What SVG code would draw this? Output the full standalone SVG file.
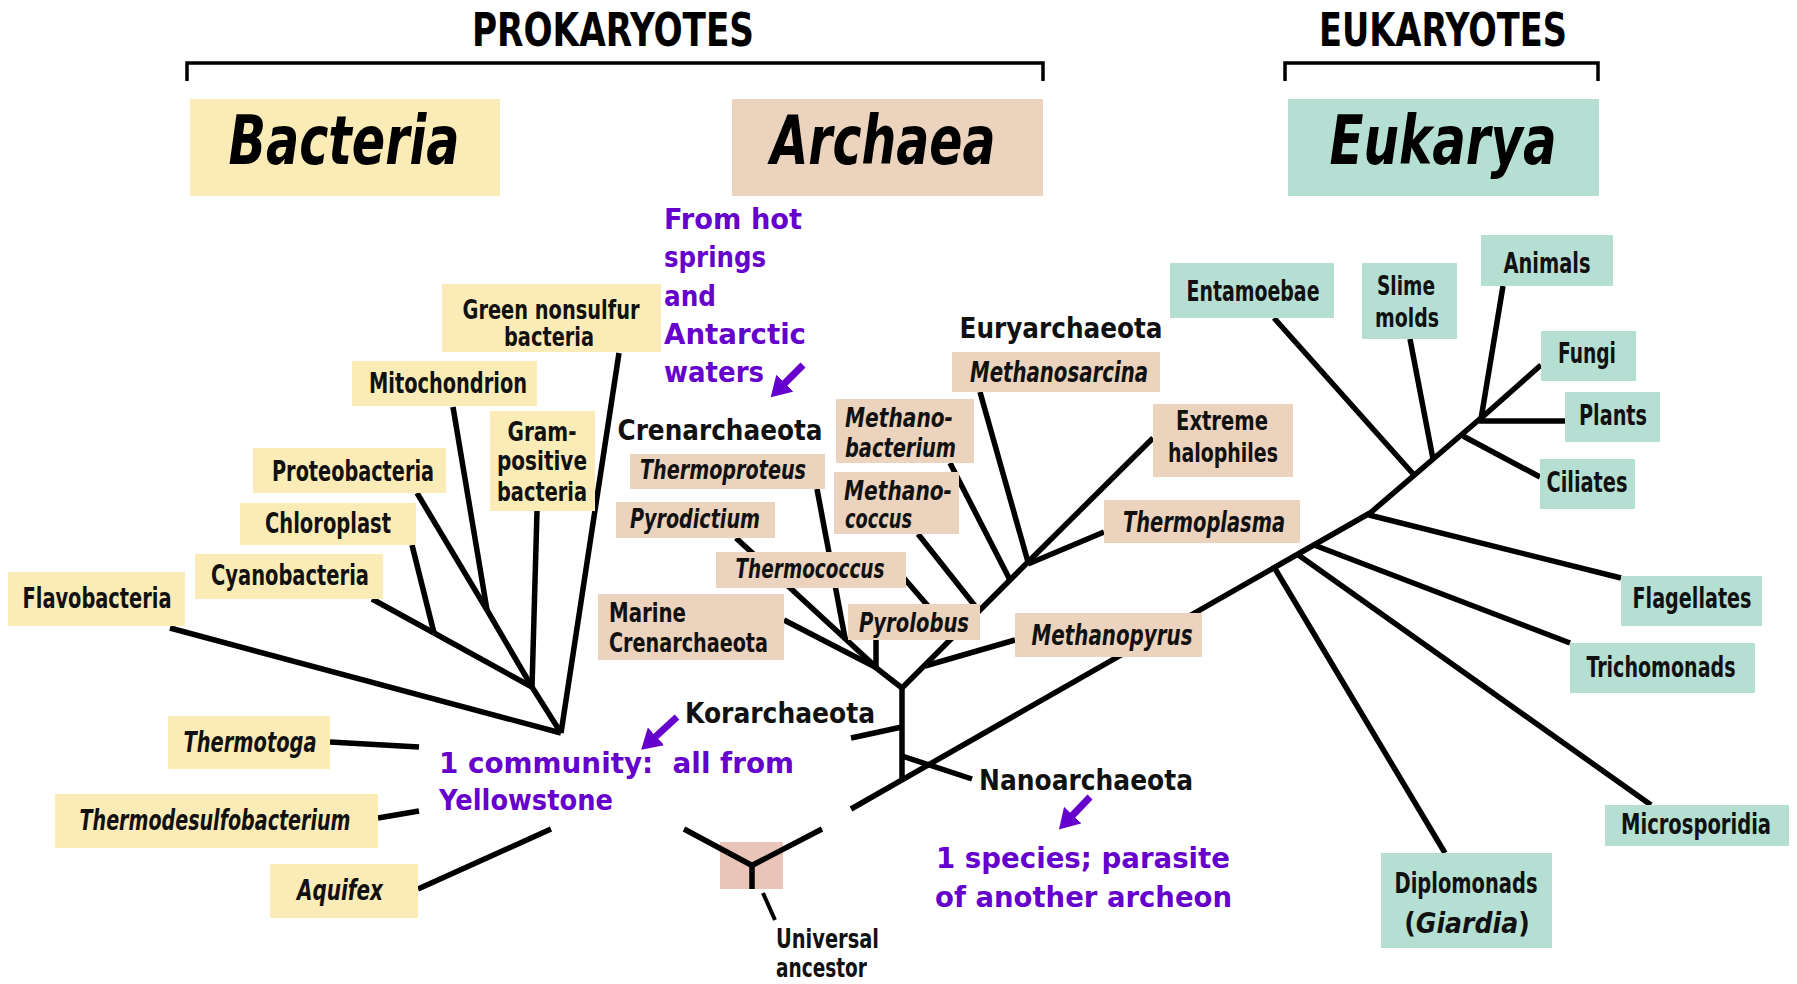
<svg xmlns="http://www.w3.org/2000/svg" width="1797" height="984" viewBox="0 0 1797 984">
<defs>
<style>
.bg{fill:#ffffff}
.yb{fill:#FBEBB6}
.tb{fill:#EBD3BD}
.gb{fill:#B4DFD2}
.ub{fill:#E8C4B9}
.br{fill:none;stroke:#000;stroke-width:3.5}
.ln{stroke:#000;stroke-width:5.5;stroke-linecap:butt;fill:none}
.lb{font-family:"DejaVu Sans Condensed","DejaVu Sans",sans-serif;font-weight:bold;font-size:28px;fill:#111}
.sm{font-size:26px}
.it{font-style:italic}
.c{text-anchor:middle}
.hd{font-family:"DejaVu Sans Condensed","DejaVu Sans",sans-serif;font-weight:bold;font-size:46px;fill:#000;text-anchor:middle}
.dm{font-family:"DejaVu Sans Condensed","DejaVu Sans",sans-serif;font-weight:bold;font-style:italic;font-size:68px;fill:#000;text-anchor:middle}
.pu{font-family:"Comic Sans MS","DejaVu Sans",sans-serif;font-weight:bold;font-size:28px;fill:#6600CC}
.ar{stroke:#6600CC;stroke-width:7;fill:none}
</style>
<marker id="ah" markerUnits="userSpaceOnUse" markerWidth="22" markerHeight="24" refX="4" refY="12" orient="auto" viewBox="0 0 22 24">
<path d="M0,0 L20,12 L0,24 z" fill="#6600CC"/>
</marker>
</defs>
<rect class="bg" x="0" y="0" width="1797" height="984"/>

<g id="headers">
<text class="hd" x="613" y="46" textLength="282" lengthAdjust="spacingAndGlyphs">PROKARYOTES</text>
<path class="br" d="M187,81 V63 H1043 V81"/>
<text class="hd" x="1443" y="46" textLength="248" lengthAdjust="spacingAndGlyphs">EUKARYOTES</text>
<path class="br" d="M1285,81 V63 H1598 V81"/>
</g>
<g id="domain-bacteria"><rect class="yb" x="190" y="99" width="310" height="97"/><text class="dm" x="344" y="164" textLength="231" lengthAdjust="spacingAndGlyphs">Bacteria</text></g>
<g id="domain-archaea"><rect class="tb" x="732" y="99" width="311" height="97"/><text class="dm" x="883" y="164" textLength="225" lengthAdjust="spacingAndGlyphs">Archaea</text></g>
<g id="domain-eukarya"><rect class="gb" x="1288" y="99" width="311" height="97"/><text class="dm" x="1443" y="164" textLength="227" lengthAdjust="spacingAndGlyphs">Eukarya</text></g>

<g id="connectors">
<!-- bacteria -->
<line class="ln" x1="619" y1="353" x2="561" y2="733"/>
<line class="ln" x1="170" y1="628" x2="561" y2="733"/>
<line class="ln" x1="532" y1="687" x2="561" y2="733"/>
<line class="ln" x1="537" y1="511" x2="532" y2="687"/>
<line class="ln" x1="453" y1="407" x2="487" y2="610"/>
<line class="ln" x1="417" y1="493" x2="487" y2="610"/>
<line class="ln" x1="487" y1="610" x2="532" y2="687"/>
<line class="ln" x1="412" y1="545" x2="434" y2="633"/>
<line class="ln" x1="372" y1="599" x2="434" y2="633"/>
<line class="ln" x1="434" y1="633" x2="532" y2="687"/>
<line class="ln" x1="330" y1="742" x2="419" y2="747"/>
<line class="ln" x1="378" y1="818" x2="419" y2="811"/>
<line class="ln" x1="418" y1="889" x2="551" y2="829"/>
<!-- crenarchaeota -->
<line class="ln" x1="784" y1="620" x2="877" y2="668"/>
<line class="ln" x1="736" y1="538" x2="877" y2="668"/>
<line class="ln" x1="817" y1="489" x2="845" y2="638"/>
<line class="ln" x1="876" y1="640" x2="876" y2="668"/>
<line class="ln" x1="875" y1="667" x2="902" y2="688"/>
<!-- euryarchaeota -->
<line class="ln" x1="1028" y1="562" x2="902" y2="688"/>
<line class="ln" x1="980" y1="392" x2="1028" y2="562"/>
<line class="ln" x1="1153" y1="438" x2="1028" y2="562"/>
<line class="ln" x1="1104" y1="532" x2="1028" y2="564"/>
<line class="ln" x1="950" y1="463" x2="1010" y2="580"/>
<line class="ln" x1="918" y1="534" x2="979" y2="611"/>
<line class="ln" x1="890" y1="562" x2="954" y2="636"/>
<line class="ln" x1="1015" y1="640" x2="925" y2="666"/>
<!-- central -->
<line class="ln" x1="902" y1="686" x2="902" y2="781"/>
<line class="ln" x1="851" y1="738" x2="902" y2="727"/>
<line class="ln" x1="902" y1="756" x2="972" y2="779"/>
<line class="ln" x1="851" y1="809" x2="1370" y2="513"/>
<!-- universal ancestor pointer -->
<line class="ln" x1="763" y1="893" x2="775" y2="920" style="stroke-width:4"/>
<!-- eukarya -->
<line class="ln" x1="1369" y1="514" x2="1481" y2="418"/>
<line class="ln" x1="1369" y1="515" x2="1621" y2="578"/>
<line class="ln" x1="1314" y1="545" x2="1570" y2="643"/>
<line class="ln" x1="1297" y1="554" x2="1651" y2="805"/>
<line class="ln" x1="1274" y1="567" x2="1445" y2="853"/>
<line class="ln" x1="1274" y1="318" x2="1415" y2="476"/>
<line class="ln" x1="1410" y1="339" x2="1433" y2="459"/>
<line class="ln" x1="1503" y1="286" x2="1481" y2="419"/>
<line class="ln" x1="1541" y1="365" x2="1479" y2="420"/>
<line class="ln" x1="1479" y1="421" x2="1565" y2="421"/>
<line class="ln" x1="1463" y1="436" x2="1540" y2="477"/>
<!-- purple arrows -->
<line class="ar" x1="803" y1="365" x2="782" y2="386" marker-end="url(#ah)"/>
<line class="ar" x1="1090" y1="797" x2="1070" y2="818" marker-end="url(#ah)"/>
<line class="ar" x1="677" y1="717" x2="653" y2="739" marker-end="url(#ah)"/>
</g>

<!-- bacteria nodes -->
<g id="green-nonsulfur"><rect class="yb" x="442" y="284" width="219" height="68"/><text class="lb sm c" x="551" y="319" textLength="177" lengthAdjust="spacingAndGlyphs">Green nonsulfur</text><text class="lb sm c" x="549" y="346" textLength="90" lengthAdjust="spacingAndGlyphs">bacteria</text></g>
<g id="mitochondrion"><rect class="yb" x="352" y="361" width="185" height="45"/><text class="lb c" x="448" y="393" textLength="158" lengthAdjust="spacingAndGlyphs">Mitochondrion</text></g>
<g id="gram-positive"><rect class="yb" x="490" y="411" width="105" height="100"/><text class="lb sm c" x="542" y="441" textLength="69" lengthAdjust="spacingAndGlyphs">Gram-</text><text class="lb sm c" x="542" y="470" textLength="90" lengthAdjust="spacingAndGlyphs">positive</text><text class="lb sm c" x="542" y="501" textLength="90" lengthAdjust="spacingAndGlyphs">bacteria</text></g>
<g id="proteobacteria"><rect class="yb" x="253" y="448" width="193" height="45"/><text class="lb c" x="353" y="481" textLength="162" lengthAdjust="spacingAndGlyphs">Proteobacteria</text></g>
<g id="chloroplast"><rect class="yb" x="240" y="503" width="176" height="42"/><text class="lb c" x="328" y="533" textLength="126" lengthAdjust="spacingAndGlyphs">Chloroplast</text></g>
<g id="cyanobacteria"><rect class="yb" x="195" y="554" width="188" height="45"/><text class="lb c" x="290" y="585" textLength="158" lengthAdjust="spacingAndGlyphs">Cyanobacteria</text></g>
<g id="flavobacteria"><rect class="yb" x="8" y="572" width="177" height="54"/><text class="lb c" x="97" y="608" textLength="149" lengthAdjust="spacingAndGlyphs">Flavobacteria</text></g>
<g id="thermotoga"><rect class="yb" x="168" y="716" width="162" height="53"/><text class="lb c it" x="250" y="752" textLength="133" lengthAdjust="spacingAndGlyphs">Thermotoga</text></g>
<g id="thermodesulfobacterium"><rect class="yb" x="55" y="794" width="323" height="54"/><text class="lb c it" x="215" y="830" textLength="271" lengthAdjust="spacingAndGlyphs">Thermodesulfobacterium</text></g>
<g id="aquifex"><rect class="yb" x="270" y="864" width="148" height="54"/><text class="lb c it" x="340" y="900" textLength="86" lengthAdjust="spacingAndGlyphs">Aquifex</text></g>

<!-- archaea nodes -->
<g id="crenarchaeota"><text class="lb c" x="720" y="440" textLength="205" lengthAdjust="spacingAndGlyphs">Crenarchaeota</text></g>
<g id="euryarchaeota"><text class="lb c" x="1061" y="338" textLength="203" lengthAdjust="spacingAndGlyphs">Euryarchaeota</text></g>
<g id="korarchaeota"><text class="lb c" x="780" y="723" textLength="190" lengthAdjust="spacingAndGlyphs">Korarchaeota</text></g>
<g id="nanoarchaeota"><text class="lb c" x="1086" y="790" textLength="214" lengthAdjust="spacingAndGlyphs">Nanoarchaeota</text></g>
<g id="thermoproteus"><rect class="tb" x="630" y="454" width="195" height="35"/><text class="lb sm c it" x="723" y="479" textLength="166" lengthAdjust="spacingAndGlyphs">Thermoproteus</text></g>
<g id="pyrodictium"><rect class="tb" x="616" y="502" width="159" height="36"/><text class="lb sm c it" x="695" y="528" textLength="130" lengthAdjust="spacingAndGlyphs">Pyrodictium</text></g>
<g id="thermococcus"><rect class="tb" x="716" y="552" width="190" height="36"/><text class="lb sm c it" x="810" y="578" textLength="149" lengthAdjust="spacingAndGlyphs">Thermococcus</text></g>
<g id="marine-crenarchaeota"><rect class="tb" x="598" y="594" width="186" height="66"/><text class="lb sm" x="609" y="622" textLength="77" lengthAdjust="spacingAndGlyphs">Marine</text><text class="lb sm" x="609" y="652" textLength="159" lengthAdjust="spacingAndGlyphs">Crenarchaeota</text></g>
<g id="pyrolobus"><rect class="tb" x="848" y="604" width="132" height="36"/><text class="lb sm c it" x="914" y="632" textLength="110" lengthAdjust="spacingAndGlyphs">Pyrolobus</text></g>
<g id="methanobacterium"><rect class="tb" x="836" y="399" width="138" height="64"/><text class="lb sm it" x="845" y="427" textLength="108" lengthAdjust="spacingAndGlyphs">Methano-</text><text class="lb sm it" x="845" y="457" textLength="111" lengthAdjust="spacingAndGlyphs">bacterium</text></g>
<g id="methanococcus"><rect class="tb" x="834" y="472" width="125" height="62"/><text class="lb sm it" x="844" y="500" textLength="108" lengthAdjust="spacingAndGlyphs">Methano-</text><text class="lb sm it" x="845" y="528" textLength="67" lengthAdjust="spacingAndGlyphs">coccus</text></g>
<g id="methanosarcina"><rect class="tb" x="952" y="352" width="208" height="40"/><text class="lb c it" x="1059" y="382" textLength="178" lengthAdjust="spacingAndGlyphs">Methanosarcina</text></g>
<g id="extreme-halophiles"><rect class="tb" x="1153" y="404" width="140" height="73"/><text class="lb sm c" x="1222" y="430" textLength="92" lengthAdjust="spacingAndGlyphs">Extreme</text><text class="lb sm c" x="1223" y="462" textLength="110" lengthAdjust="spacingAndGlyphs">halophiles</text></g>
<g id="thermoplasma"><rect class="tb" x="1104" y="500" width="196" height="43"/><text class="lb c it" x="1204" y="532" textLength="162" lengthAdjust="spacingAndGlyphs">Thermoplasma</text></g>
<g id="methanopyrus"><rect class="tb" x="1015" y="613" width="187" height="44"/><text class="lb c it" x="1112" y="645" textLength="161" lengthAdjust="spacingAndGlyphs">Methanopyrus</text></g>

<!-- eukarya nodes -->
<g id="entamoebae"><rect class="gb" x="1170" y="263" width="164" height="55"/><text class="lb c" x="1253" y="301" textLength="133" lengthAdjust="spacingAndGlyphs">Entamoebae</text></g>
<g id="slime-molds"><rect class="gb" x="1362" y="263" width="95" height="76"/><text class="lb sm c" x="1406" y="295" textLength="58" lengthAdjust="spacingAndGlyphs">Slime</text><text class="lb sm c" x="1407" y="327" textLength="64" lengthAdjust="spacingAndGlyphs">molds</text></g>
<g id="animals"><rect class="gb" x="1481" y="235" width="132" height="51"/><text class="lb c" x="1547" y="273" textLength="87" lengthAdjust="spacingAndGlyphs">Animals</text></g>
<g id="fungi"><rect class="gb" x="1541" y="331" width="95" height="50"/><text class="lb c" x="1587" y="363" textLength="58" lengthAdjust="spacingAndGlyphs">Fungi</text></g>
<g id="plants"><rect class="gb" x="1565" y="392" width="95" height="50"/><text class="lb c" x="1613" y="425" textLength="68" lengthAdjust="spacingAndGlyphs">Plants</text></g>
<g id="ciliates"><rect class="gb" x="1540" y="459" width="95" height="50"/><text class="lb c" x="1587" y="492" textLength="81" lengthAdjust="spacingAndGlyphs">Ciliates</text></g>
<g id="flagellates"><rect class="gb" x="1621" y="576" width="141" height="50"/><text class="lb c" x="1692" y="608" textLength="119" lengthAdjust="spacingAndGlyphs">Flagellates</text></g>
<g id="trichomonads"><rect class="gb" x="1570" y="643" width="185" height="50"/><text class="lb c" x="1661" y="677" textLength="149" lengthAdjust="spacingAndGlyphs">Trichomonads</text></g>
<g id="microsporidia"><rect class="gb" x="1605" y="805" width="184" height="41"/><text class="lb c" x="1696" y="834" textLength="150" lengthAdjust="spacingAndGlyphs">Microsporidia</text></g>
<g id="diplomonads"><rect class="gb" x="1381" y="853" width="171" height="95"/><text class="lb c" x="1466" y="893" textLength="143" lengthAdjust="spacingAndGlyphs">Diplomonads</text><text class="lb c" x="1467" y="933">(<tspan class="it">Giardia</tspan>)</text></g>

<!-- universal ancestor -->
<g id="universal-ancestor"><rect class="ub" x="720" y="842" width="63" height="47"/><line class="ln" x1="684" y1="829" x2="753" y2="866"/><line class="ln" x1="822" y1="829" x2="751" y2="866"/><line class="ln" x1="752" y1="864" x2="752" y2="889"/><text class="lb sm" x="776" y="948" textLength="103" lengthAdjust="spacingAndGlyphs">Universal</text><text class="lb sm" x="776" y="977" textLength="91" lengthAdjust="spacingAndGlyphs">ancestor</text></g>

<!-- annotations -->
<g id="note-hot-springs">
<text class="pu" x="664" y="229" textLength="138" lengthAdjust="spacingAndGlyphs">From hot</text>
<text class="pu" x="664" y="267" textLength="102" lengthAdjust="spacingAndGlyphs">springs</text>
<text class="pu" x="664" y="306" textLength="52" lengthAdjust="spacingAndGlyphs">and</text>
<text class="pu" x="664" y="344" textLength="142" lengthAdjust="spacingAndGlyphs">Antarctic</text>
<text class="pu" x="664" y="382" textLength="100" lengthAdjust="spacingAndGlyphs">waters</text>
</g>
<g id="note-community">
<text class="pu" x="439" y="773" textLength="355" lengthAdjust="spacingAndGlyphs" xml:space="preserve">1 community:  all from</text>
<text class="pu" x="439" y="810" textLength="174" lengthAdjust="spacingAndGlyphs">Yellowstone</text>
</g>
<g id="note-species">
<text class="pu" x="936" y="868" textLength="294" lengthAdjust="spacingAndGlyphs">1 species; parasite</text>
<text class="pu" x="935" y="907" textLength="297" lengthAdjust="spacingAndGlyphs">of another archeon</text>
</g>
</svg>
